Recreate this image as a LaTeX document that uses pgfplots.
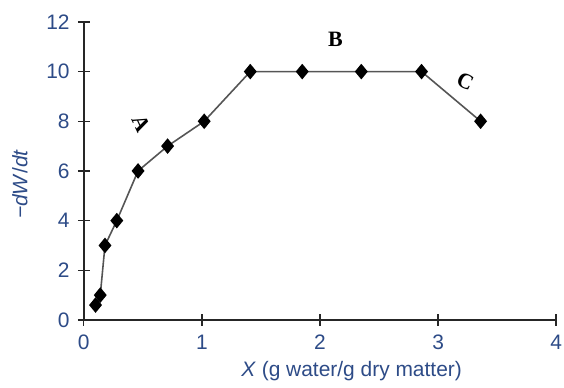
\documentclass[border=0pt]{standalone}
\usepackage{pgfplots}
\pgfplotsset{compat=1.18}
\usepackage{fontspec}
\setmainfont{Liberation Sans}
\newfontfamily\serifb{Liberation Serif}
\definecolor{tickblue}{RGB}{45,75,135}
\definecolor{linegray}{RGB}{85,85,85}
\begin{document}
\begin{tikzpicture}[x=1pt,y=1pt]
\begin{axis}[
  scale only axis,
  width=237pt, height=149.5pt,
  xmin=0, xmax=4, ymin=0, ymax=12,
  axis x line=bottom, axis y line=left,
  axis line style={-, black!85, line width=0.8pt},
  xtick={0,1,2,3,4}, ytick={0,2,4,6,8,10,12},
  tick align=center,
  major tick length=5.8pt,
  tick style={black!85, line width=0.7pt},
  /pgf/number format/assume math mode=true,
  ticklabel style={font=\fontsize{10.5}{12}\selectfont, text=tickblue, inner sep=1pt},
  xticklabel style={yshift=-3.5pt},
  yticklabel style={xshift=-3pt},
  xlabel={\textit{X} (g water/g dry matter)},
  xlabel style={font=\fontsize{10.5}{12}\selectfont, text=tickblue, at={(axis description cs:0.567,0)}, anchor=north, yshift=-17pt},
  ylabel={\textit{−dW}/\textit{dt}},
  ylabel style={font=\fontsize{10.5}{12}\selectfont, text=tickblue, at={(axis description cs:-0.135,0.455)}, anchor=center},
  clip=false,
]
\addplot[linegray, line width=0.8pt, mark=diamond*, mark size=3.3pt, mark options={fill=black, draw=black, solid, xscale=1.1}]
coordinates {
(0.10,0.6) (0.14,1.0) (0.18,3.0) (0.28,4.0) (0.46,6.0) (0.71,7.0) (1.02,8.0)
(1.41,10) (1.85,10) (2.35,10) (2.86,10) (3.36,8)
};
\node[font=\serifb\bfseries\fontsize{11}{13}\selectfont, rotate=-65] at (axis cs:0.49,7.9) {A};
\node[font=\serifb\bfseries\fontsize{11}{13}\selectfont] at (axis cs:2.13,11.3) {B};
\node[font=\serifb\bfseries\fontsize{11}{13}\selectfont, rotate=-25] at (axis cs:3.23,9.6) {C};
\end{axis}
\path ([shift={(-42pt,-34pt)}]current axis.south west) rectangle ([shift={(3pt,11pt)}]current axis.north east);
\end{tikzpicture}
\end{document}
